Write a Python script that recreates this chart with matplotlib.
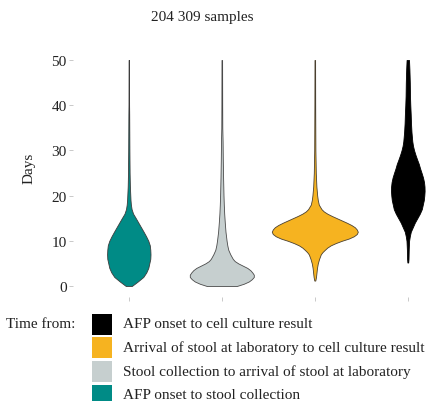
import matplotlib
matplotlib.use("Agg")
import matplotlib.pyplot as plt
from matplotlib.patches import Rectangle

# ── Data ───────────────────────────────────────────────────────────────────────
# violins left to right; widths are half-widths (relative units)
LABELS = [
    "AFP onset to stool collection",
    "Stool collection to arrival of stool at laboratory",
    "Arrival of stool at laboratory to cell culture result",
    "AFP onset to cell culture result",
]
COLORS = ["#008b86", "#c6cfcf", "#f6b320", "#000000"]
EDGES  = ["#3c3c3c", "#4a4a4a", "#4a4030", "#000000"]

onset_stool_days  = [0, 0.5, 1, 2, 3, 4, 5, 6, 7, 8, 9, 10, 11, 12, 13, 14, 15, 16, 17,
                     18, 19, 20, 22, 25, 30, 38, 40, 50]
onset_stool_width = [3, 6, 9, 14.5, 17.5, 19.5, 20.5, 21.5, 21.7, 21.5, 21, 19.5, 17.3, 14.8,
                     12.2, 9.6, 7, 4.3, 2.8, 2.1, 1.7, 1.5, 1.1, 0.8, 0.6, 0.4, 0.3, 0.2]

stool_lab_days  = [0, 0.5, 1, 1.5, 2, 2.5, 3, 3.5, 4, 4.5, 5, 5.5, 6, 7, 8, 9, 10, 12, 14,
                   16, 18, 20, 24, 28, 32, 35, 40, 50]
stool_lab_width = [15, 22, 27, 30, 32, 32, 30.5, 28.5, 25.5, 21, 16.5, 13, 11, 8.5, 6.5, 5.5,
                   4.8, 3.7, 3, 2.4, 2, 1.7, 1.3, 1, 0.8, 0.5, 0.4, 0.3]

lab_result_days  = [1.2, 2, 3, 4, 5, 6, 7, 7.5, 8, 8.5, 9, 9.5, 10, 10.5, 11, 11.5, 12, 12.5,
                    13, 13.5, 14, 14.5, 15, 15.5, 16, 16.5, 17, 18, 19, 20, 21, 22, 25, 30,
                    40, 50]
lab_result_width = [0.5, 1.2, 1.7, 2.2, 3, 4.3, 6, 7.7, 10, 12.5, 16, 21, 27, 34, 39, 42, 43,
                    42, 40, 36.5, 32, 27, 22, 17, 12.5, 9, 6.7, 4, 3, 2.4, 2, 1.6, 1, 0.6,
                    0.4, 0.3]

onset_result_days  = [5.2, 6, 8, 10, 11, 12, 13, 14, 15, 16, 17, 18, 19, 20, 21, 22, 23, 24,
                      25, 26, 27, 28, 29, 30, 31, 32, 34, 36, 38, 40, 42, 45, 48, 50]
onset_result_width = [0.4, 0.7, 0.9, 1.3, 2, 3, 5, 7, 9.5, 12, 14, 15, 16, 16.5, 16.8, 16.7,
                      16.2, 15.2, 13.8, 12.3, 11, 9.3, 7.7, 6.3, 5.2, 4.5, 3.7, 3.2, 2.9,
                      2.5, 2.2, 2, 1.6, 1.2]

Y_TICKS   = [0, 10, 20, 30, 40, 50]
N_SAMPLES = "204 309 samples"

# ── Plot ───────────────────────────────────────────────────────────────────────
plt.rcParams["font.family"] = ["Liberation Serif", "DejaVu Serif"]
FS = 11
W, H = 438, 402
WIDTH_SCALE = 1 / 93.0   # relative width -> category units

fig = plt.figure(figsize=(W / 100, H / 100), dpi=100)
ax = fig.add_axes([73 / W, 103.7 / H, 365 / W, 248.6 / H])

series = [
    (onset_stool_days, onset_stool_width),
    (stool_lab_days, stool_lab_width),
    (lab_result_days, lab_result_width),
    (onset_result_days, onset_result_width),
]
for i, (days, width) in enumerate(series):
    pos = i + 1
    left  = [pos - w * WIDTH_SCALE for w in width]
    right = [pos + w * WIDTH_SCALE for w in width]
    ax.fill_betweenx(days, left, right, facecolor=COLORS[i], edgecolor=EDGES[i],
                     linewidth=0.6, zorder=2)

ax.set_xlim(0.4, 0.4 + 365 / 93.0)
ax.set_ylim(-2.5, 52.5)
ax.set_xticks([1, 2, 3, 4])
ax.set_xticklabels([])
ax.set_yticks(Y_TICKS)
ax.tick_params(axis="both", colors="#c0c0c0", length=3, width=0.6,
               labelcolor="#222222", labelsize=FS, pad=1.5)
for s in ax.spines.values():
    s.set_visible(False)

fig.text(202 / W, 1 - 17 / H, N_SAMPLES, ha="center", va="center",
         fontsize=FS, color="#222222")
fig.text(29 / W, 1 - 168 / H, "Days", rotation=90, ha="center", va="center",
         fontsize=FS, color="#222222")

# legend, reversed order, drawn by hand so the keys sit edge to edge like the original
key_top, key_w, key_h, pitch = 314.7, 20, 21, 23.6
for row, i in enumerate(reversed(range(4))):
    top = key_top + row * pitch
    fig.add_artist(Rectangle((92 / W, 1 - (top + key_h) / H), key_w / W, key_h / H,
                             transform=fig.transFigure, facecolor=COLORS[i],
                             edgecolor="none"))
    fig.text(123 / W, 1 - (top + key_h / 2 - 0.5) / H, LABELS[i], ha="left",
             va="center", fontsize=FS, color="#222222")
fig.text(6 / W, 1 - 324.5 / H, "Time from:", ha="left", va="center",
         fontsize=FS, color="#222222")

fig.savefig("out.png", dpi=100)
